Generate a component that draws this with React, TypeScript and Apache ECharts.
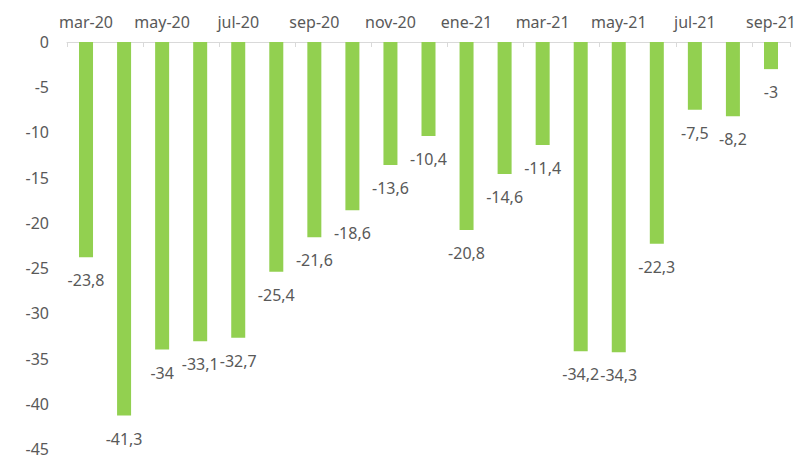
import React, { useEffect, useRef } from "react";
import * as echarts from "echarts";

const categories = [
  "mar-20", "abr-20", "may-20", "jun-20", "jul-20", "ago-20", "sep-20", "oct-20", "nov-20", "dic-20",
  "ene-21", "feb-21", "mar-21", "abr-21", "may-21", "jun-21", "jul-21", "ago-21", "sep-21",
];
const values = [
  -23.8, -41.3, -34, -33.1, -32.7, -25.4, -21.6, -18.6, -13.6, -10.4,
  -20.8, -14.6, -11.4, -34.2, -34.3, -22.3, -7.5, -8.2, -3,
];
const yMin = -45;
const yMax = 0;
const yInterval = 5;

const textColor = "#595959";
const barColor = "#92D050";
const fontFamily = "'Noto Sans', sans-serif";

export default function App() {
  const ref = useRef<HTMLDivElement>(null);
  useEffect(() => {
    if (!ref.current) return;
    const chart = echarts.init(ref.current, null, { renderer: "svg" });
    chart.setOption({
      animation: false,
      grid: { left: 67, right: 15, top: 42, bottom: 12, containLabel: false },
      xAxis: {
        type: "category",
        data: categories,
        position: "top",
        axisLine: { show: true, lineStyle: { color: "#d9d9d9", width: 1 } },
        axisTick: { show: true, interval: 1, inside: true, length: 5, lineStyle: { color: "#d9d9d9" } },
        axisLabel: { interval: 1, color: textColor, fontSize: 16, fontFamily, margin: 12 },
        splitLine: { show: false },
      },
      yAxis: {
        type: "value",
        min: yMin,
        max: yMax,
        interval: yInterval,
        axisLine: { show: false },
        axisTick: { show: false },
        splitLine: { show: false },
        axisLabel: { color: textColor, fontSize: 16, fontFamily, margin: 18 },
      },
      series: [
        {
          type: "bar",
          data: values,
          barWidth: 14,
          itemStyle: { color: barColor },
          label: {
            show: true,
            position: "bottom",
            distance: 15,
            color: textColor,
            fontSize: 16,
            fontFamily,
            formatter: (p: any) => String(p.value).replace(".", ","),
          },
        },
      ],
    });
    return () => chart.dispose();
  }, []);
  return (
    <div
      ref={ref}
      style={{ position: "absolute", left: 0, top: 0, width: 805, height: 461, background: "#fff" }}
    />
  );
}
